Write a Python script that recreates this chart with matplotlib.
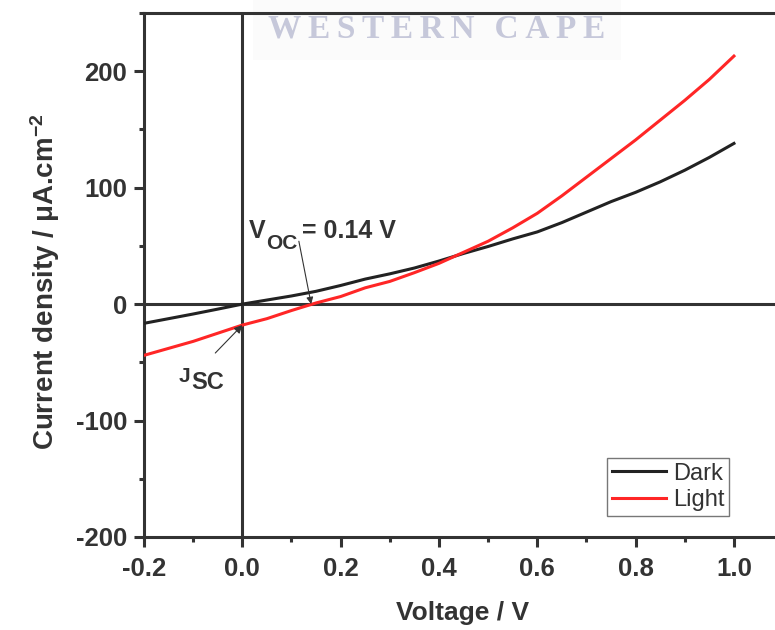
import matplotlib
matplotlib.use("Agg")
import matplotlib.pyplot as plt
from matplotlib.ticker import MultipleLocator

plt.rcParams['font.family'] = ['Liberation Sans', 'DejaVu Sans']
plt.rcParams['mathtext.fontset'] = 'custom'
plt.rcParams['mathtext.rm'] = 'Liberation Sans'
plt.rcParams['mathtext.bf'] = 'Liberation Sans:bold'
plt.rcParams['mathtext.it'] = 'Liberation Sans:italic'

voltage = [-0.20, -0.15, -0.10, -0.05, 0.00, 0.05, 0.10, 0.15, 0.20, 0.25,
           0.30, 0.35, 0.40, 0.45, 0.50, 0.55, 0.60, 0.65, 0.70, 0.75,
           0.80, 0.85, 0.90, 0.95, 1.00]
dark = [-16.5, -12.5, -8.5, -4.3, 0.0, 3.5, 7.0, 11.0, 16.0, 21.5,
        26.0, 31.0, 37.0, 43.5, 49.5, 56.0, 62.0, 70.0, 79.0, 88.0,
        96.0, 105.0, 115.0, 126.0, 138.0]
light = [-44.0, -38.0, -32.0, -25.0, -18.0, -12.5, -5.5, 1.0, 6.5, 14.0,
         19.5, 27.0, 35.0, 44.5, 54.0, 65.5, 78.0, 93.0, 109.0, 125.0,
         141.0, 158.0, 175.0, 193.0, 213.0]
series_names = ["Dark", "Light"]
voc = 0.14
jsc = -18.0

ink = "#333333"

fig = plt.figure(figsize=(7.75, 6.30), dpi=100, facecolor="white")
ax = fig.add_axes([144 / 775, 93 / 630, 1 - 144 / 775, (537 - 13) / 630])
ax.patch.set_visible(False)

# university watermark behind the plot area
wm = "\u2009".join("WESTERN") + "\u2009\u2009\u2009" + "\u2009".join("CAPE")
fig.text(437 / 775, 1 - 29 / 630, wm, family=["Liberation Serif", "DejaVu Serif"],
         fontsize=24, fontweight="bold", color="#c6c8da", ha="center", va="center",
         zorder=-1,
         bbox=dict(boxstyle="square,pad=0.45", facecolor="#fbfbfb", edgecolor="none"))

ax.plot(voltage, dark, color="#222222", lw=2.2, label=series_names[0], zorder=3)
ax.plot(voltage, light, color="#ff2626", lw=2.2, label=series_names[1], zorder=3)

ax.axhline(0, color=ink, lw=2.2, zorder=2)
ax.axvline(0, color=ink, lw=2.2, zorder=2)

ax.set_xlim(-0.2, 1.0835)
ax.set_ylim(-200, 250)

ax.xaxis.set_minor_locator(MultipleLocator(0.1))
ax.yaxis.set_minor_locator(MultipleLocator(50))
ax.set_xticks([-0.2, 0.0, 0.2, 0.4, 0.6, 0.8, 1.0])
ax.set_xticklabels(["-0.2", "0.0", "0.2", "0.4", "0.6", "0.8", "1.0"])
ax.set_yticks([-200, -100, 0, 100, 200])
ax.set_yticklabels(["-200", "-100", "0", "100", "200"])

for side in ("left", "bottom", "top"):
    ax.spines[side].set_linewidth(2.2)
    ax.spines[side].set_color(ink)
ax.spines["right"].set_visible(False)

ax.tick_params(which="major", direction="out", length=7, width=2.2, color=ink,
               labelsize=18.5, labelcolor=ink)
ax.tick_params(which="minor", direction="out", length=3.5, width=2.2, color=ink)
ax.tick_params(axis="x", which="major", pad=7.5)
ax.tick_params(axis="y", which="major", pad=5, right=False)
for lbl in ax.get_xticklabels() + ax.get_yticklabels():
    lbl.set_fontweight("bold")

ax.set_xlabel("Voltage / V", fontsize=19, fontweight="bold", color=ink)
ax.xaxis.set_label_coords((463 - 144) / 631, (537 - 620) / 524)
ax.xaxis.label.set_va("baseline")
ax.set_ylabel(r"Current density / $\mathbf{\mu}$A.cm$^{\mathbf{-2}}$", fontsize=20,
              fontweight="bold", color=ink)
ax.yaxis.set_label_coords((45 - 144) / 631, (537 - 282) / 524)
ax.yaxis.label.set_va("center")

# V_oc label and arrow
ax.text(0.014, 56.7, "V", fontsize=18, fontweight="bold", color=ink, va="baseline")
ax.text(0.0486, 47.5, "OC", fontsize=15, fontweight="bold", color=ink, va="baseline")
ax.text(0.122, 56.7, "= 0.14 V", fontsize=18, fontweight="bold", color=ink, va="baseline")
ax.annotate("", xy=(voc, 0), xytext=(0.115, 54),
            arrowprops=dict(arrowstyle="-|>", color=ink, lw=0.8,
                            mutation_scale=10, shrinkA=0, shrinkB=0))

# J_sc label and arrow
ax.text(-0.129, -67, "J", fontsize=15, fontweight="bold", color=ink, va="baseline")
ax.text(-0.104, -72.5, "SC", fontsize=17, fontweight="bold", color=ink, va="baseline")
ax.annotate("", xy=(0.0, jsc), xytext=(-0.055, -42),
            arrowprops=dict(arrowstyle="-|>", color=ink, lw=0.8,
                            mutation_scale=12, shrinkA=0, shrinkB=0))

leg = ax.legend(loc="upper left", bbox_to_anchor=((607 - 144) / 631, (537 - 458) / 524),
                fontsize=17, frameon=True, fancybox=False, handlelength=2.3,
                borderpad=0.2, labelspacing=0.2, handletextpad=0.3,
                borderaxespad=0)
leg.get_frame().set_edgecolor("#555555")
leg.get_frame().set_linewidth(1.0)
for t in leg.get_texts():
    t.set_color(ink)

fig.savefig("out.png", dpi=100, facecolor="white")
